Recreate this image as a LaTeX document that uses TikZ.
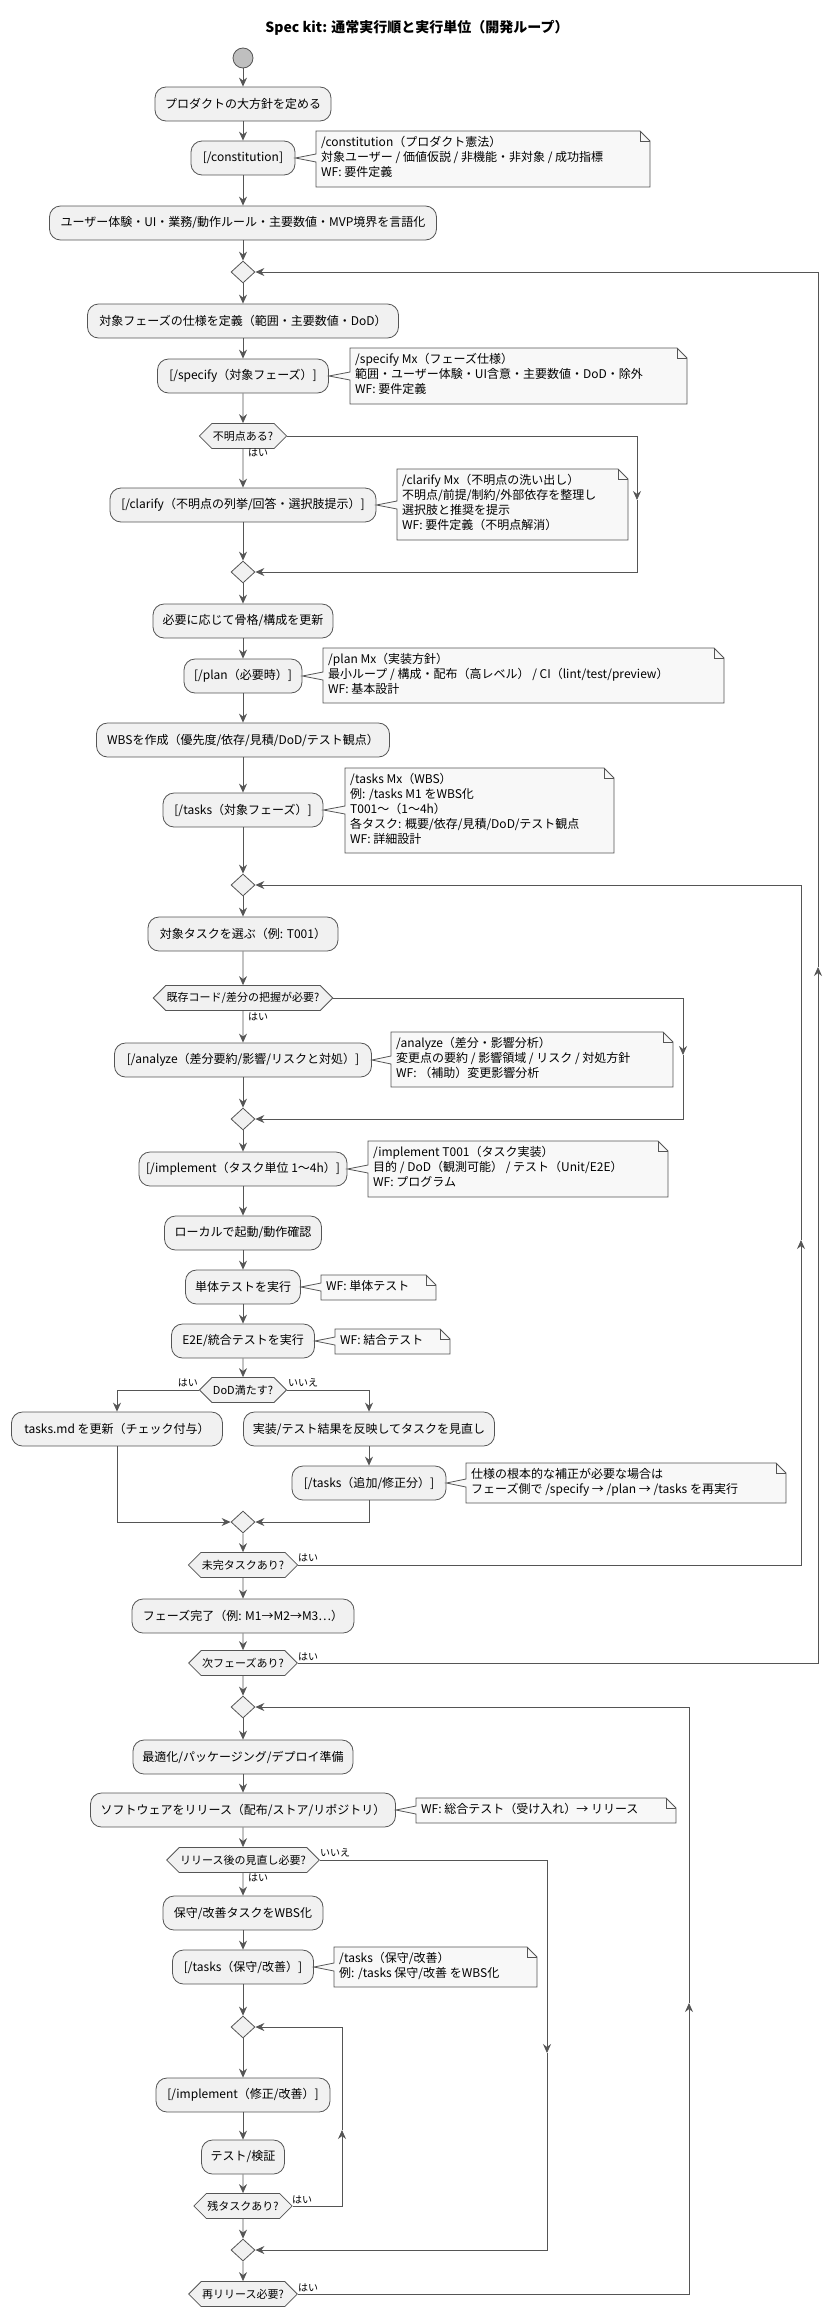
\documentclass[tikz,border=0pt]{standalone}
\usepackage{fontspec}
\setmainfont{Noto Sans CJK JP}
\usetikzlibrary{shapes.geometric,shapes.symbols,arrows.meta}
\definecolor{boxfill}{HTML}{F1F1F1}
\definecolor{notefill}{HTML}{F8F8F8}
\definecolor{ln}{HTML}{555555}
\tikzset{
 act/.style={draw=ln,fill=boxfill,line width=0.8pt,rounded corners=11pt,minimum height=34pt,inner xsep=6pt,font=\fontsize{12}{15}\selectfont},
 dec/.style={draw=ln,fill=boxfill,line width=0.8pt,signal,signal to=west and east,minimum height=25pt,inner sep=1pt,font=\fontsize{11}{13}\selectfont},
 mrg/.style={draw=ln,fill=boxfill,line width=0.8pt,diamond,minimum width=24pt,minimum height=22pt,inner sep=0pt},
 arr/.style={draw=ln,line width=0.8pt,-{Stealth[length=9pt,width=8pt,inset=3pt]}},
 notest/.style={draw=ln,fill=notefill,line width=0.8pt},
 lbl/.style={font=\fontsize{10}{12}\selectfont,inner sep=1pt},
}
\newcommand\nt[7]{%
 \coordinate (#1p) at (#6.east -| #2,0);
 \draw[notest] (#2,#3) -- (#4-10,#3) -- (#4,#3+10) -- (#4,#5) -- (#2,#5) -- ([yshift=-4pt]#1p) -- (#6.east) -- ([yshift=4pt]#1p) -- cycle;
 \draw[ln,line width=0.8pt] (#4-10,#3) -- (#4-10,#3+10) -- (#4,#3+10);
 \node[anchor=north west,align=left,inner sep=3pt,font=\fontsize{12}{15}\selectfont] (#1) at (#2+2,#3+2) {#7};
}
\begin{document}
\begin{tikzpicture}[x=1pt,y=-1pt]
\useasboundingbox (0,0) rectangle (840,2318);
\node[font=\bfseries\fontsize{14}{16}\selectfont] (title) at (417,28) {Spec kit: 通常実行順と実行単位（開発ループ）};
\node[circle,draw=ln,fill=black!25,line width=0.8pt,minimum size=20pt,inner sep=0pt] (S) at (243,58) {};
\node[act,minimum width=176pt] (A1) at (243,104) {プロダクトの大方針を定める};
\node[act,minimum width=104pt] (A2) at (243,158) {[/constitution]};
\node[act,minimum width=387pt] (A3) at (243,223) {ユーザー体験・UI・業務/動作ルール・主要数値・MVP境界を言語化};
\node[mrg] (M1) at (243,272) {};
\node[act,minimum width=311pt] (A4) at (243,321) {対象フェーズの仕様を定義（範囲・主要数値・DoD）};
\node[act,minimum width=171pt] (A5) at (243,376) {[/specify（対象フェーズ）]};
\node[dec,minimum width=84pt] (D1) at (243,436) {不明点ある?};
\node[act,minimum width=266pt] (A6) at (243,505) {[/clarify（不明点の列挙/回答・選択肢提示）]};
\node[mrg] (M2) at (243,572) {};
\node[act,minimum width=180pt] (A7) at (243,621) {必要に応じて骨格/構成を更新};
\node[act,minimum width=118pt] (A8) at (243,676) {[/plan（必要時）]};
\node[act,minimum width=293pt] (A9) at (243,740) {WBSを作成（優先度/依存/見積/DoD/テスト観点）};
\node[act,minimum width=160pt] (A10) at (243,810) {[/tasks（対象フェーズ）]};
\node[mrg] (M3) at (243,885) {};
\node[act,minimum width=190pt] (A11) at (243,934) {対象タスクを選ぶ（例: T001）};
\node[dec,minimum width=176pt] (D2) at (243,998) {既存コード/差分の把握が必要?};
\node[act,minimum width=257pt] (A12) at (243,1060) {[/analyze（差分要約/影響/リスクと対処）]};
\node[mrg] (M4) at (243,1119) {};
\node[act,minimum width=208pt] (A13) at (243,1169) {[/implement（タスク単位 1〜4h）]};
\node[act,minimum width=157pt] (A14) at (243,1233) {ローカルで起動/動作確認};
\node[act,minimum width=115pt] (A15) at (243,1287) {単体テストを実行};
\node[act,minimum width=143pt] (A16) at (243,1341) {E2E/統合テストを実行};
\node[dec,minimum width=85pt] (D3) at (243,1390) {DoD満たす?};
\node[act,minimum width=211pt] (A17) at (117,1429) {tasks.md を更新（チェック付与）};
\node[act,minimum width=251pt] (A18) at (369,1429) {実装/テスト結果を反映してタスクを見直し};
\node[act,minimum width=154pt] (A19) at (369,1483) {[/tasks（追加/修正分）]};
\node[mrg] (M5) at (243,1522) {};
\node[dec,minimum width=107pt] (D4) at (243,1565) {未完タスクあり?};
\node[act,minimum width=222pt] (A20) at (243,1616) {フェーズ完了（例: M1→M2→M3…）};
\node[dec,minimum width=106pt] (D5) at (243,1663) {次フェーズあり?};
\node[mrg] (M6) at (243,1707) {};
\node[act,minimum width=220pt] (A21) at (243,1757) {最適化/パッケージング/デプロイ準備};
\node[act,minimum width=305pt] (A22) at (243,1810) {ソフトウェアをリリース（配布/ストア/リポジトリ）};
\node[dec,minimum width=149pt] (D6) at (243,1860) {リリース後の見直し必要?};
\node[act,minimum width=160pt] (A23) at (243,1913) {保守/改善タスクをWBS化};
\node[act,minimum width=141pt] (A24) at (243,1967) {[/tasks（保守/改善）]};
\node[mrg] (M8) at (243,2027) {};
\node[act,minimum width=174pt] (A25) at (243,2095) {[/implement（修正/改善）]};
\node[act,minimum width=83pt] (A26) at (243,2157) {テスト/検証};
\node[dec,minimum width=96pt] (D7) at (243,2206) {残タスクあり?};
\node[mrg] (M9) at (243,2250) {};
\node[dec,minimum width=106pt] (D8) at (243,2294) {再リリース必要?};
% notes
\nt{N1}{316}{131}{650}{187}{A2}{/constitution（プロダクト憲法）\\対象ユーザー / 価値仮説 / 非機能・非対象 / 成功指標\\WF: 要件定義}
\nt{N2}{350}{348}{687}{404}{A5}{/specify Mx（フェーズ仕様）\\範囲・ユーザー体験・UI含意・主要数値・DoD・除外\\WF: 要件定義}
\nt{N3}{397}{469}{628}{540}{A6}{/clarify Mx（不明点の洗い出し）\\不明点/前提/制約/外部依存を整理し\\選択肢と推奨を提示\\WF: 要件定義（不明点解消）}
\nt{N4}{323}{648}{724}{703}{A8}{/plan Mx（実装方針）\\最小ループ / 構成・配布（高レベル） / CI（lint/test/preview）\\WF: 基本設計}
\nt{N5}{345}{768}{614}{853}{A10}{/tasks Mx（WBS）\\例: /tasks M1 をWBS化\\T001〜（1〜4h）\\各タスク: 概要/依存/見積/DoD/テスト観点\\WF: 詳細設計}
\nt{N6}{391}{1032}{673}{1087}{A12}{/analyze（差分・影響分析）\\変更点の要約 / 影響領域 / リスク / 対処方針\\WF: （補助）変更影響分析}
\nt{N7}{368}{1141}{668}{1197}{A13}{/implement T001（タスク実装）\\目的 / DoD（観測可能） / テスト（Unit/E2E）\\WF: プログラム}
\nt{N8}{321}{1275}{436}{1300}{A15}{WF: 単体テスト}
\nt{N9}{335}{1329}{450}{1354}{A16}{WF: 結合テスト}
\nt{N10}{466}{1463}{786}{1503}{A19}{仕様の根本的な補正が必要な場合は\\フェーズ側で /specify → /plan → /tasks を再実行}
\nt{N11}{416}{1798}{676}{1823}{A22}{WF: 総合テスト（受け入れ）→ リリース}
\nt{N12}{334}{1947}{537}{1987}{A24}{/tasks（保守/改善）\\例: /tasks 保守/改善 をWBS化}
% main flow
\draw[arr] (S) -- (A1);
\draw[arr] (A1) -- (A2);
\draw[arr] (A2) -- (A3);
\draw[arr] (A3) -- (M1);
\draw[arr] (M1) -- (A4);
\draw[arr] (A4) -- (A5);
\draw[arr] (A5) -- (D1);
\draw[arr] (D1) -- (A6);
\draw[arr] (A6) -- (M2);
\draw[arr] (M2) -- (A7);
\draw[arr] (A7) -- (A8);
\draw[arr] (A8) -- (A9);
\draw[arr] (A9) -- (A10);
\draw[arr] (A10) -- (M3);
\draw[arr] (M3) -- (A11);
\draw[arr] (A11) -- (D2);
\draw[arr] (D2) -- (A12);
\draw[arr] (A12) -- (M4);
\draw[arr] (M4) -- (A13);
\draw[arr] (A13) -- (A14);
\draw[arr] (A14) -- (A15);
\draw[arr] (A15) -- (A16);
\draw[arr] (A16) -- (D3);
\draw[arr] (D3.west) -| (A17.north);
\draw[arr] (D3.east) -| (A18.north);
\draw[arr] (A18) -- (A19);
\draw[arr] (A17.south) |- (M5.west);
\draw[arr] (A19.south) |- (M5.east);
\draw[arr] (M5) -- (D4);
\draw[arr] (D4) -- (A20);
\draw[arr] (A20) -- (D5);
\draw[arr] (D5) -- (M6);
\draw[arr] (M6) -- (A21);
\draw[arr] (A21) -- (A22);
\draw[arr] (A22) -- (D6);
\draw[arr] (D6) -- (A23);
\draw[arr] (A23) -- (A24);
\draw[arr] (A24) -- (M8);
\draw[arr] (M8) -- (A25);
\draw[arr] (A25) -- (A26);
\draw[arr] (A26) -- (D7);
\draw[arr] (D7) -- (M9);
\draw[arr] (M9) -- (D8);
% branches / loops
\coordinate (c1) at (637,500);
\draw[arr] (D1.east) -| (c1); \draw[arr] (c1) |- (M2.east);
\coordinate (c2) at (683,1055);
\draw[arr] (D2.east) -| (c2); \draw[arr] (c2) |- (M4.east);
\coordinate (o2) at (801,1240);
\draw[arr] (D4.east) -| (o2); \draw[arr] (o2) |- (M3.east);
\coordinate (o1) at (818,967);
\draw[arr] (D5.east) -| (o1); \draw[arr] (o1) |- (M1.east);
\coordinate (o3) at (547,2053);
\draw[arr] (D6.east) -| (o3); \draw[arr] (o3) |- (M9.east);
\coordinate (o4) at (342,2130);
\draw[arr] (D7.east) -| (o4); \draw[arr] (o4) |- (M8.east);
\coordinate (o5) at (689,2003);
\draw[arr] (D8.east) -| (o5); \draw[arr] (o5) |- (M6.east);
% labels
\node[lbl,anchor=west] (L1) at (247,453) {はい};
\node[lbl,anchor=west] (L2) at (247,1017) {はい};
\node[lbl,anchor=east] (L3) at (199,1383) {はい};
\node[lbl,anchor=west] (L4) at (287,1383) {いいえ};
\node[lbl,anchor=west] (L5) at (297,1558) {はい};
\node[lbl,anchor=west] (L6) at (297,1657) {はい};
\node[lbl,anchor=west] (L7) at (319,1853) {いいえ};
\node[lbl,anchor=west] (L8) at (247,1878) {はい};
\node[lbl,anchor=west] (L9) at (291,2200) {はい};
\node[lbl,anchor=west] (L10) at (297,2288) {はい};
\end{tikzpicture}
\end{document}
